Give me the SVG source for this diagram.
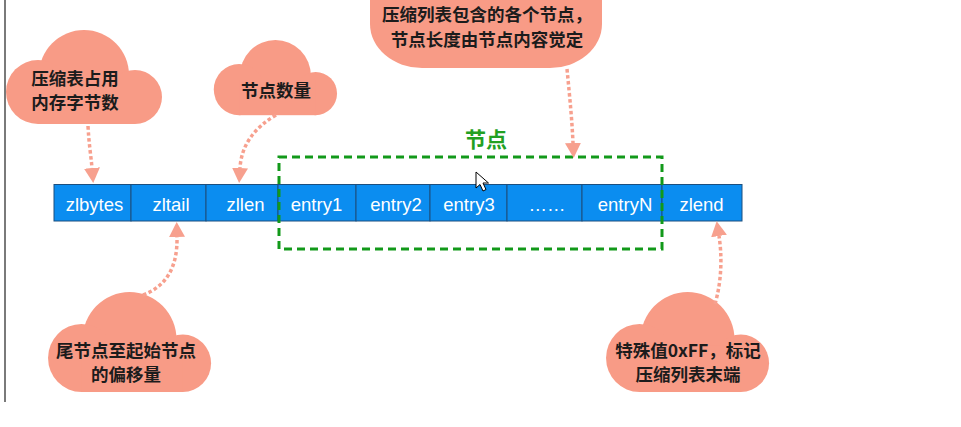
<svg xmlns="http://www.w3.org/2000/svg" width="961" height="427" viewBox="0 0 961 427">
<style>
.cloud{fill:#F89B86}
.ct{font-family:"Noto Sans CJK SC","Noto Sans",sans-serif;font-size:17.5px;font-weight:700;fill:#1c1c1c;text-anchor:middle}
.cell{fill:#0B8DF0;stroke:#1C4F7F;stroke-width:1}
.bt{font-family:"Liberation Sans",Arial,sans-serif;font-size:18.5px;fill:#ffffff;text-anchor:middle}
.arr{fill:none;stroke:#F7A08E;stroke-width:3.5;stroke-dasharray:3.5 2.5}
.grp{fill:none;stroke:#12991A;stroke-width:3;stroke-dasharray:8 5}
.gl{font-family:"Noto Sans CJK SC","Noto Sans",sans-serif;font-size:21px;font-weight:700;fill:#22A022;text-anchor:middle}
</style>
<defs>
<g id="cloudShape" class="cloud">
<circle cx="79" cy="45" r="45"/>
<circle cx="33" cy="62" r="32"/>
<circle cx="130" cy="67" r="27"/>
<rect x="33" y="50" width="97" height="44"/>
</g>
<marker id="ah" markerUnits="userSpaceOnUse" markerWidth="16" markerHeight="16" refX="0" refY="7.5" orient="auto" viewBox="0 0 15 15">
<path d="M0,0 L14,7.5 L0,15 Z" fill="#F7A08E"/>
</marker>
</defs>
<rect x="0" y="0" width="961" height="427" fill="#ffffff"/>
<rect x="4" y="0" width="2" height="402" fill="#7a7a7a"/>

<g id="bar">
<rect class="cell" x="54" y="184.5" width="77" height="36.5"/>
<rect class="cell" x="131" y="184.5" width="75" height="36.5"/>
<rect class="cell" x="206" y="184.5" width="72" height="36.5"/>
<rect class="cell" x="278" y="184.5" width="78" height="36.5"/>
<rect class="cell" x="356" y="184.5" width="74" height="36.5"/>
<rect class="cell" x="430" y="184.5" width="77" height="36.5"/>
<rect class="cell" x="507" y="184.5" width="75" height="36.5"/>
<rect class="cell" x="582" y="184.5" width="80" height="36.5"/>
<rect class="cell" x="662" y="184.5" width="80" height="36.5"/>
<text class="bt" x="94.5" y="210.5">zlbytes</text>
<text class="bt" x="171" y="210.5">zltail</text>
<text class="bt" x="245.5" y="210.5">zllen</text>
<text class="bt" x="316.5" y="210.5">entry1</text>
<text class="bt" x="396" y="210.5">entry2</text>
<text class="bt" x="469" y="210.5">entry3</text>
<text class="bt" x="547" y="210.5">……</text>
<text class="bt" x="625" y="210.5">entryN</text>
<text class="bt" x="701.5" y="210.5">zlend</text>
</g>

<g id="entries-group">
<rect class="grp" x="279" y="157" width="383" height="92"/>
<text class="gl" x="486" y="147">节点</text>
</g>

<g id="cloud-zlbytes">
<use href="#cloudShape" transform="translate(5,30)"/>
<text class="ct" x="75" y="85">压缩表占用</text>
<text class="ct" x="75" y="109">内存字节数</text>
</g>

<g id="cloud-zllen">
<use href="#cloudShape" transform="translate(213,40) scale(0.79,0.8)"/>
<text class="ct" x="276" y="97">节点数量</text>
</g>

<g id="cloud-entries">
<rect class="cloud" x="370" y="-50" width="232" height="118" rx="52" ry="44"/>
<text class="ct" x="487" y="21">压缩列表包含的各个节点，</text>
<text class="ct" x="487" y="46">节点长度由节点内容觉定</text>
</g>

<g id="cloud-zltail">
<use href="#cloudShape" transform="translate(47,292) scale(1.045,1.064)"/>
<text class="ct" x="126" y="357">尾节点至起始节点</text>
<text class="ct" x="126" y="381">的偏移量</text>
</g>

<g id="cloud-zlend">
<use href="#cloudShape" transform="translate(605,292) scale(1.045,1.064)"/>
<text class="ct" x="688" y="357">特殊值0xFF，标记</text>
<text class="ct" x="688" y="381">压缩列表末端</text>
</g>

<g id="connectors">
<path class="arr" d="M88,126 C89,145 91,156 92,168" marker-end="url(#ah)"/>
<path class="arr" d="M276,115 Q242,135 240,168" marker-end="url(#ah)"/>
<path class="arr" d="M567,69 C570,100 572,120 573,143" marker-end="url(#ah)"/>
<path class="arr" d="M143,295 Q178,282 177,237" marker-end="url(#ah)"/>
<path class="arr" d="M715,304 C722,280 722,255 719,236" marker-end="url(#ah)"/>
</g>

<path d="M476,172 L476,188 L480,184.5 L483,191 L486,189.5 L483,183 L488.5,183 Z" fill="#ffffff" stroke="#000000" stroke-width="1" stroke-linejoin="round"/>
</svg>
